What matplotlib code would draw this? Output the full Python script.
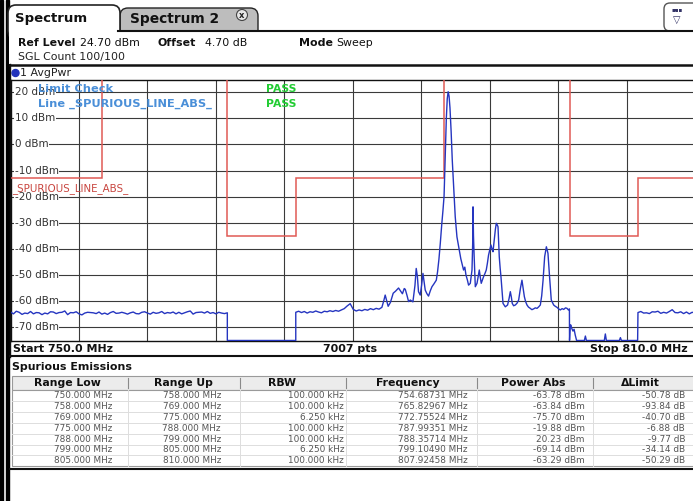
"""
Tela do analisador de espectro: emissões espúrias 750-810 MHz
"""
import numpy as np
import matplotlib
matplotlib.use("Agg")
import matplotlib.pyplot as plt
from matplotlib.patches import Rectangle, FancyBboxPatch, Circle

# ---------------------------------------------------------------- dados
# piso de ruído 750-769 MHz (passo 0.25 MHz)
nivel_lo = [-64.2, -64.9, -63.9, -64.3, -65.1, -64.6, -64.8, -64.0, -64.9, -64.4,
            -64.5, -65.2, -64.6, -64.9, -64.1, -64.2, -64.8, -64.4, -64.3, -63.8,
            -65.2, -64.4, -64.5, -64.1, -64.9, -65.3, -64.6, -64.3, -64.4, -64.5,
            -64.8, -64.2, -65.0, -64.6, -65.1, -64.4, -64.0, -64.7, -64.6, -64.3,
            -64.6, -65.0, -64.5, -64.2, -64.8, -64.9, -64.3, -64.1, -64.6, -65.0,
            -64.3, -64.7, -64.5, -64.0, -64.8, -64.4, -64.6, -64.2, -64.9, -64.3,
            -64.9, -64.5, -64.1, -63.8, -65.0, -64.4, -64.3, -64.2, -64.6, -64.0,
            -64.7, -64.4, -64.9, -64.3, -64.6, -64.8, -64.5]

# 775-799 MHz
freq_mid = [775.0, 775.25, 775.5, 775.75, 776.0, 776.25, 776.5, 776.75, 777.0, 777.25,
            777.5, 777.75, 778.0, 778.25, 778.5, 778.75, 779.0, 779.25, 779.5, 779.77,
            780.04, 780.3, 780.55, 780.8, 781.05, 781.3, 781.55, 781.8, 782.05, 782.3,
            782.55, 782.72, 782.84, 782.95, 783.1, 783.3, 783.54, 783.75, 784.01, 784.16,
            784.35, 784.51, 784.6, 784.75, 784.89, 785.04, 785.27, 785.45, 785.56, 785.66,
            785.76, 785.91, 786.03, 786.15, 786.25, 786.35, 786.5, 786.64, 786.8, 786.94,
            787.1, 787.32, 787.43, 787.55, 787.67, 787.8, 787.9, 788.0, 788.1, 788.2,
            788.28, 788.36, 788.44, 788.52, 788.62, 788.72, 788.83, 788.98, 789.13, 789.25,
            789.36, 789.47, 789.57, 789.71, 789.82, 789.92, 790.05, 790.15, 790.3, 790.45,
            790.51, 790.54, 790.58, 790.64, 790.74, 790.89, 791.0, 791.09, 791.18, 791.26,
            791.36, 791.46, 791.58, 791.7, 791.8, 791.9, 792.0, 792.11, 792.2, 792.29,
            792.4, 792.5, 792.58, 792.66, 792.73, 792.84, 792.92, 792.99, 793.08, 793.17,
            793.37, 793.57, 793.7, 793.81, 793.9, 793.98, 794.1, 794.25, 794.4, 794.54,
            794.7, 794.83, 794.95, 795.04, 795.15, 795.27, 795.4, 795.56, 795.7, 795.85,
            796.0, 796.15, 796.3, 796.44, 796.56, 796.68, 796.82, 796.97, 797.11, 797.25,
            797.4, 797.61, 797.75, 797.9, 798.05, 798.19, 798.35, 798.49, 798.65, 798.78,
            798.9, 798.99]
nivel_mid = [-64.3, -63.9, -64.4, -64.0, -64.6, -64.1, -64.3, -63.8, -64.2, -64.5,
             -63.9, -64.1, -63.7, -64.0, -63.6, -63.9, -63.4, -62.9, -61.9, -61.0,
             -63.2, -63.8, -63.4, -63.7, -63.2, -63.5, -62.9, -63.3, -62.8, -63.1,
             -62.4, -59.8, -57.7, -59.5, -62.0, -60.5, -57.0, -56.2, -55.0, -56.0,
             -57.2, -55.2, -55.5, -57.8, -60.2, -59.6, -60.3, -54.0, -47.5, -50.5,
             -56.4, -57.7, -54.0, -49.4, -52.5, -55.8, -57.2, -58.1, -56.0, -54.5,
             -53.5, -52.0, -48.8, -44.0, -37.9, -30.5, -25.5, -19.9, -5.0, 10.0,
             17.5, 20.2, 18.5, 14.0, 5.0, -6.0, -15.0, -27.7, -35.4, -38.5,
             -41.1, -43.8, -45.6, -48.1, -47.0, -50.0, -52.0, -53.9, -53.2, -48.1,
             -38.0, -23.9, -35.0, -43.0, -54.5, -53.2, -50.5, -48.1, -51.0, -53.2,
             -52.0, -50.7, -49.5, -48.1, -45.5, -42.4, -40.5, -38.5, -40.0, -41.1,
             -36.6, -32.5, -30.2, -30.8, -31.5, -43.0, -47.5, -50.7, -56.0, -60.9,
             -62.2, -61.5, -59.0, -56.4, -58.5, -60.9, -61.8, -61.5, -60.8, -59.6,
             -55.0, -52.0, -55.5, -58.3, -60.2, -61.5, -62.3, -62.8, -63.3, -63.0,
             -62.6, -62.8, -62.2, -61.5, -58.0, -52.0, -43.0, -39.2, -41.7, -50.7,
             -59.6, -61.5, -62.0, -62.4, -63.0, -63.4, -62.9, -63.2, -62.6, -62.8,
             -63.4, -63.0]

# 799-805 MHz (abaixo da tela, com alguns picos)
freq_799 = [799.0, 799.05, 799.1, 799.2, 799.3, 799.4, 799.5, 799.62, 800.3, 800.39,
            800.48, 802.05, 802.14, 802.23, 803.37, 803.46, 803.55, 804.97]
nivel_799 = [-78, -70.0, -69.1, -70.5, -71.5, -70.8, -73.0, -78, -78, -73.4,
             -78, -78, -72.6, -78, -78, -74.0, -78, -78]

# piso de ruído 805-810 MHz (passo 0.25 MHz)
nivel_hi = [-64.4, -64.0, -64.6, -64.5, -64.8, -64.1, -64.2, -63.9, -64.7, -64.3,
            -64.6, -64.0, -63.3, -64.4, -64.5, -64.1, -64.8, -64.2, -64.9, -64.3,
            -64.6]

# linha limite
limite_bordas = [750, 758, 769, 775, 788, 799, 805, 810]
limite_niveis = [-13, 30, -35, -13, 30, -35, -13]

# tabela
col_titulos = ["Range Low", "Range Up", "RBW", "Frequency", "Power Abs", "\u0394Limit"]
range_low = ["750.000 MHz", "758.000 MHz", "769.000 MHz", "775.000 MHz",
             "788.000 MHz", "799.000 MHz", "805.000 MHz"]
range_up = ["758.000 MHz", "769.000 MHz", "775.000 MHz", "788.000 MHz",
            "799.000 MHz", "805.000 MHz", "810.000 MHz"]
rbw = ["100.000 kHz", "100.000 kHz", "6.250 kHz", "100.000 kHz",
       "100.000 kHz", "6.250 kHz", "100.000 kHz"]
frequencia = ["754.68731 MHz", "765.82967 MHz", "772.75524 MHz", "787.99351 MHz",
              "788.35714 MHz", "799.10490 MHz", "807.92458 MHz"]
potencia = ["-63.78 dBm", "-63.84 dBm", "-75.70 dBm", "-19.88 dBm",
            "20.23 dBm", "-69.14 dBm", "-63.29 dBm"]
delta_limite = ["-50.78 dB", "-93.84 dB", "-40.70 dB", "-6.88 dB",
                "-9.77 dB", "-34.14 dB", "-50.29 dB"]

# ---------------------------------------------------------------- figura
W, H = 693, 501
fig = plt.figure(figsize=(W / 100, H / 100), dpi=100)
fig.patch.set_facecolor("white")
bg = fig.add_axes([0, 0, 1, 1])
bg.set_xlim(0, W)
bg.set_ylim(H, 0)
bg.axis("off")

FONTE = "DejaVu Sans"
CINZA = "#333333"

# borda preta da janela
bg.add_patch(Rectangle((0, 0), 3, H, color="black"))
bg.add_patch(Rectangle((5.5, 0), 3, H, color="black"))

# abas
bg.add_patch(FancyBboxPatch((120, 8), 138, 30, boxstyle="round,pad=0,rounding_size=8",
                            fc="#bdbdbd", ec="#222222", lw=1))
bg.add_patch(FancyBboxPatch((8, 5), 112, 34, boxstyle="round,pad=0,rounding_size=8",
                            fc="white", ec="#222222", lw=1.2))
bg.add_patch(Rectangle((8.5, 31), 700, 33, fc="white", ec="none"))
bg.plot([118, 693], [31, 31], color="#111111", lw=1.5)
bg.text(15, 18, "Spectrum", fontsize=9.5, fontweight="bold", family=FONTE,
        color="#111111", va="center")
bg.text(130, 19, "Spectrum 2", fontsize=9.9, fontweight="bold", family=FONTE,
        color="#111111", va="center")
bg.add_patch(Circle((242, 15), 5.5, fc="#e6e6e6", ec="#444444", lw=0.8))
bg.text(242, 15.5, "x", fontsize=6, fontweight="bold", ha="center", va="center",
        family=FONTE, color="#222222")
bg.add_patch(FancyBboxPatch((664, 3), 40, 28, boxstyle="round,pad=0,rounding_size=6",
                            fc="white", ec="#555555", lw=1))
bg.text(677, 10, "\u25aa\u25aa\u25aa", fontsize=4, ha="center", va="center",
        color="#333366", family=FONTE)
bg.text(677, 20, "\u25bd", fontsize=7, ha="center", va="center", color="#333366",
        family=FONTE)

# cabeçalho de configuração
info = [(18, "Ref Level", "bold"), (80, "24.70 dBm", "normal"),
        (158, "Offset", "bold"), (205, "4.70 dB", "normal"),
        (299, "Mode", "bold"), (336, "Sweep", "normal")]
for xx, txt, peso in info:
    bg.text(xx, 43, txt, fontsize=7.9, fontweight=peso, family=FONTE,
            color="#111111", va="center")
bg.text(18, 57, "SGL Count 100/100", fontsize=7.9, family=FONTE, color="#222222",
        va="center")
bg.plot([10, 693], [64.5, 64.5], color="#111111", lw=1.8)
bg.plot([10, 10], [64, 357], color="#111111", lw=1)
bg.add_patch(Circle((15.5, 73), 3.5, color="#2233bb"))
bg.text(20, 73, "1 AvgPwr", fontsize=7.9, family=FONTE, color="#222222", va="center")

# barra inferior do diagrama
bg.plot([10, 693], [356, 356], color="#111111", lw=1.5)
bg.text(13, 348.5, "Start 750.0 MHz", fontsize=7.9, fontweight="bold", family=FONTE,
        color="#111111", va="center")
bg.text(350, 348.5, "7007 pts", fontsize=7.9, fontweight="bold", family=FONTE,
        color="#111111", va="center", ha="center")
bg.text(688, 348.5, "Stop 810.0 MHz", fontsize=7.9, fontweight="bold", family=FONTE,
        color="#111111", va="center", ha="right")

# ---------------------------------------------------------------- diagrama
x0, x1, y0, y1 = 10.6, 695.0, 80.0, 341.0
ax = fig.add_axes([x0 / W, 1 - y1 / H, (x1 - x0) / W, (y1 - y0) / H])
ax.set_zorder(2)
ax.set_xlim(750, 810)
ax.set_ylim(-75.3, 24.7)
ax.set_xticks(np.arange(756, 805, 6))
ax.set_yticks(np.arange(-70, 21, 10))
ax.grid(True, color="#3a3a3a", lw=0.8)
ax.tick_params(length=0, labelbottom=False, labelleft=False)
for s in ax.spines.values():
    s.set_color("#111111")
    s.set_linewidth(1)

f_lo = 750.0 + 0.25 * np.arange(len(nivel_lo))
f_hi = 805.0 + 0.25 * np.arange(len(nivel_hi))
freq = np.concatenate([f_lo, [769.0, 775.0], freq_mid, freq_799, f_hi])
nivel = np.concatenate([nivel_lo, [-78, -78], nivel_mid, nivel_799, nivel_hi])
# o aparelho desenha o que fica abaixo da tela na borda inferior
ax.plot(freq, np.clip(nivel, -75.1, None), color="#2535c0", lw=1.0, zorder=4)

ax.stairs(limite_niveis, limite_bordas, baseline=None, color="#e05a55", lw=1.1, zorder=3)

for v in range(20, -71, -10):
    ax.text(750.35, v, f"{v} dBm", fontsize=7.5, family=FONTE, color=CINZA,
            va="center", ha="left", zorder=5,
            bbox=dict(fc="white", ec="none", pad=0.6))

ax.text(750.1, -16.7, "_SPURIOUS_LINE_ABS_", fontsize=7.4, family=FONTE,
        color="#c8453f", va="center", ha="left", zorder=6)
ax.text(752.4, 21.3, "Limit Check", fontsize=8.2, fontweight="bold", family=FONTE,
        color="#4a8fd8", va="center", zorder=6)
ax.text(752.4, 15.5, "Line _SPURIOUS_LINE_ABS_", fontsize=8.2, fontweight="bold",
        family=FONTE, color="#4a8fd8", va="center", zorder=6)
ax.text(772.4, 21.3, "PASS", fontsize=7.8, fontweight="bold", family=FONTE,
        color="#22cc33", va="center", zorder=6)
ax.text(772.4, 15.5, "PASS", fontsize=7.8, fontweight="bold", family=FONTE,
        color="#22cc33", va="center", zorder=6)

# ---------------------------------------------------------------- tabela
bg.text(12, 367, "Spurious Emissions", fontsize=7.9, fontweight="bold", family=FONTE,
        color="#111111", va="center")
separadores = [12, 128, 240, 346, 477, 593, 700]
direita = [112, 221, 344, 468, 585, 685]
centros = [67, 183, 282, 408, 533, 640]
topo, alt_cab, alt_lin = 376, 14, 10.9

bg.add_patch(Rectangle((12, topo), 690, alt_cab, fc="#ececec", ec="#9a9a9a", lw=0.8))
bg.add_patch(Rectangle((12, topo + alt_cab), 690, 7 * alt_lin, fc="white",
                       ec="#9a9a9a", lw=0.8))
for xs in separadores[1:-1]:
    bg.plot([xs, xs], [topo + 2, topo + alt_cab - 2], color="#8a8a8a", lw=0.8)
    bg.plot([xs, xs], [topo + alt_cab, topo + alt_cab + 7 * alt_lin], color="#dddddd",
            lw=0.7)
for i in range(1, 7):
    yy = topo + alt_cab + i * alt_lin
    bg.plot([12, 693], [yy, yy], color="#dddddd", lw=0.7)

for c, t in zip(centros, col_titulos):
    bg.text(c, topo + alt_cab / 2, t, fontsize=7.8, fontweight="bold", family=FONTE,
            color="#111111", ha="center", va="center")

colunas = [range_low, range_up, rbw, frequencia, potencia, delta_limite]
for xr, col in zip(direita, colunas):
    for i, txt in enumerate(col):
        bg.text(xr, topo + alt_cab + (i + 0.5) * alt_lin, txt, fontsize=6.4,
                family=FONTE, color="#555555", ha="right", va="center")

bg.plot([10, 693], [469, 469], color="#111111", lw=1.5)

fig.savefig("out.png", dpi=100)
